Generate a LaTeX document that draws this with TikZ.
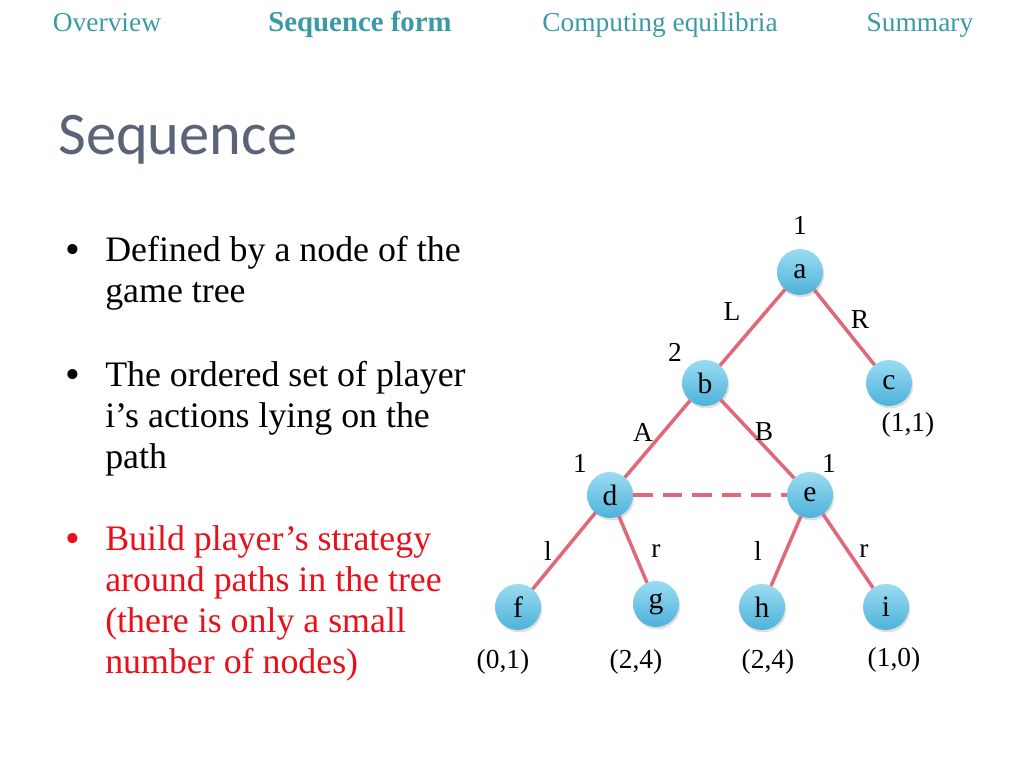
\documentclass[tikz,border=0pt]{standalone}
\usepackage{fontspec}
\setmainfont{Liberation Serif}
\newfontfamily\titlefont{Carlito}
\usepackage{tkz-graph}
\usetikzlibrary{arrows,shadows}
\definecolor{navteal}{HTML}{3A9AA6}
\definecolor{titlegray}{HTML}{5B6378}
\definecolor{branchred}{HTML}{E0687A}
\definecolor{balltop}{HTML}{9ADCF2}
\definecolor{ballbot}{HTML}{4DB2DA}
\definecolor{bulletred}{HTML}{E8101A}
\tikzset{
  navitem/.style={anchor=base, inner sep=0pt, text=navteal, font=\fontsize{19.5}{22}\selectfont},
  bullettext/.style={anchor=base west, inner sep=0pt, align=left, font=\fontsize{25.5}{29.2}\selectfont},
  bulletdot/.style={anchor=base, inner sep=0pt, font=\fontsize{30}{29.2}\selectfont},
  treelabel/.style={inner sep=0pt, font=\fontsize{19.5}{22}\selectfont},
  branch/.style={draw=branchred, line width=2.5pt},
  infoset/.style={dash pattern=on 14pt off 7pt}
}
\begin{document}
\begin{tikzpicture}
\useasboundingbox (0,0) rectangle (25.6,19.2);
% header
\node[navitem] (ov) at (2.675,18.42) {Overview};
\node[navitem, font=\fontsize{20.5}{22}\selectfont\bfseries] (sf) at (9.0,18.42) {Sequence form};
\node[navitem] (ce) at (16.5,18.42) {Computing equilibria};
\node[navitem] (su) at (23.0,18.42) {Summary};
\node[anchor=base west, inner sep=0pt, text=titlegray, font=\titlefont\fontsize{43}{50}\selectfont] (title) at (1.45,15.325) {Sequence};
% bullets (anchored at the last line)
\node[bulletdot] (d1) at (1.825,12.6) {•};
\node[bullettext] (t1) at (2.625,11.625) {Defined by a node of the\\game tree};
\node[bulletdot] (d2) at (1.825,9.475) {•};
\node[bullettext] (t2) at (2.625,7.475) {The ordered set of player\\i’s actions lying on the\\path};
\node[bulletdot, text=bulletred] (d3) at (1.825,5.375) {•};
\node[bullettext, text=bulletred] (t3) at (2.625,2.35) {Build player’s strategy\\around paths in the tree\\(there is only a small\\number of nodes)};
% game tree
\GraphInit[vstyle=Normal]
\tikzset{VertexStyle/.style={shape=circle, minimum size=1.15cm, inner sep=0pt,
  top color=balltop, bottom color=ballbot, draw=none,
  drop shadow={opacity=0.25, shadow xshift=0.03cm, shadow yshift=-0.06cm},
  font=\fontsize{21}{22}\selectfont}}
\Vertex[x=20.0,y=12.4,L={a}]{a}
\Vertex[x=17.625,y=9.625,L={b}]{b}
\Vertex[x=22.225,y=9.625,L={c}]{c}
\Vertex[x=15.25,y=6.825,L={d}]{d}
\Vertex[x=20.25,y=6.825,L={e}]{e}
\Vertex[x=12.95,y=4.025,L={f}]{f}
\Vertex[x=16.4,y=4.1,L={g}]{g}
\Vertex[x=19.05,y=4.025,L={h}]{h}
\Vertex[x=22.15,y=4.025,L={i}]{i}
\tikzset{EdgeStyle/.style={branch}}
\Edge(a)(b)
\Edge(a)(c)
\Edge(b)(d)
\Edge(b)(e)
\Edge(d)(f)
\Edge(d)(g)
\Edge(e)(h)
\Edge(e)(i)
\Edge[style={infoset}](d)(e)
% players, actions, payoffs
\node[treelabel] (pa) at (20.0,13.575) {1};
\node[treelabel] (pb) at (16.875,10.4) {2};
\node[treelabel] (pd) at (14.5,7.625) {1};
\node[treelabel] (pe) at (20.725,7.625) {1};
\node[treelabel] (aL) at (18.3,11.4) {L};
\node[treelabel] (aR) at (21.5,11.2) {R};
\node[treelabel] (aA) at (16.075,8.4) {A};
\node[treelabel] (aB) at (19.1,8.4) {B};
\node[treelabel] (dl) at (13.7,5.425) {l};
\node[treelabel] (dr) at (16.4,5.425) {r};
\node[treelabel] (el) at (18.95,5.425) {l};
\node[treelabel] (er) at (21.6,5.425) {r};
\node[treelabel] (uc) at (22.7,8.575) {(1,1)};
\node[treelabel] (uf) at (12.575,2.65) {(0,1)};
\node[treelabel] (ug) at (15.9,2.65) {(2,4)};
\node[treelabel] (uh) at (19.2,2.65) {(2,4)};
\node[treelabel] (ui) at (22.35,2.7) {(1,0)};
\end{tikzpicture}
\end{document}
